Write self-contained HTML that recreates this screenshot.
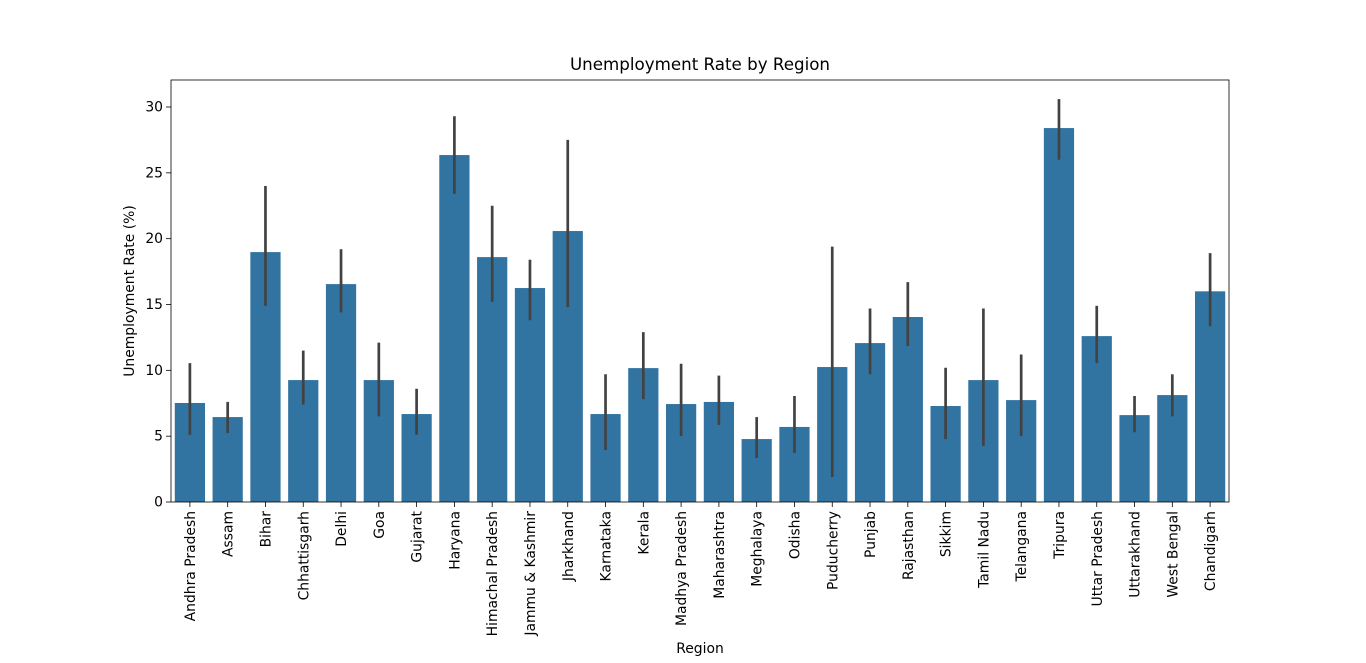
<!DOCTYPE html>
<html><head><meta charset="utf-8"><style>
html,body{margin:0;padding:0;background:#fff;}
svg{display:block;font-family:"DejaVu Sans","Liberation Sans",sans-serif;}
</style></head><body>
<svg id="chart" width="1366" height="663"></svg>
<script>
const categories=["Andhra Pradesh","Assam","Bihar","Chhattisgarh","Delhi","Goa","Gujarat","Haryana","Himachal Pradesh","Jammu & Kashmir","Jharkhand","Karnataka","Kerala","Madhya Pradesh","Maharashtra","Meghalaya","Odisha","Puducherry","Punjab","Rajasthan","Sikkim","Tamil Nadu","Telangana","Tripura","Uttar Pradesh","Uttarakhand","West Bengal","Chandigarh"];
const values=[7.52,6.45,18.98,9.26,16.55,9.26,6.68,26.35,18.6,16.25,20.58,6.68,10.17,7.44,7.6,4.78,5.7,10.25,12.07,14.05,7.29,9.26,7.74,28.4,12.6,6.6,8.12,16.0];
const errHigh=[10.55,7.6,24.0,11.5,19.2,12.1,8.6,29.3,22.5,18.4,27.5,9.7,12.9,10.5,9.6,6.45,8.05,19.4,14.7,16.7,10.2,14.7,11.2,30.6,14.9,8.05,9.7,18.9];
const errLow=[5.1,5.24,14.9,7.4,14.4,6.5,5.1,23.4,15.2,13.8,14.8,3.95,7.8,5.0,5.85,3.34,3.72,1.9,9.7,11.85,4.78,4.25,5.0,26.0,10.55,5.3,6.5,13.35];
const yTicks=[0,5,10,15,20,25,30];

const NS="http://www.w3.org/2000/svg";
const svg=document.getElementById('chart');
const L=171,R=1229,T=80,B=502;
const y=v=>B-v*(B-107)/30;
const step=(R-L)/categories.length;
const x=i=>L+step*(i+0.5);
function mk(tag,attrs,parent){const e=document.createElementNS(NS,tag);for(const k in attrs)e.setAttribute(k,attrs[k]);(parent||svg).appendChild(e);return e;}

categories.forEach((c,i)=>{
  const bw=step*0.8;
  const r=mk('rect',{x:x(i)-bw/2,y:y(values[i]),width:bw,height:y(0)-y(values[i]),fill:'#3274a1'});
  
  
  const l=mk('line',{x1:x(i),x2:x(i),y1:y(errHigh[i]),y2:y(errLow[i]),stroke:'#424242','stroke-width':2.7});
  
  
  mk('line',{x1:x(i),x2:x(i),y1:B,y2:B+5,stroke:'#000','stroke-width':0.8});
  const t=mk('text',{x:0,y:0,transform:`translate(${x(i)+5},${B+9}) rotate(-90)`,'text-anchor':'end','font-size':13.9});
  t.textContent=c;
  
  
});
yTicks.forEach(v=>{
  mk('line',{x1:L-5,x2:L,y1:y(v),y2:y(v),stroke:'#000','stroke-width':0.8});
  const t=mk('text',{x:L-8,y:y(v)+4.5,'text-anchor':'end','font-size':13.9});
  t.textContent=v;
  
  
});
const f=mk('rect',{x:L,y:T,width:R-L,height:B-T,fill:'none',stroke:'#000','stroke-width':0.8});


const ti=mk('text',{x:(L+R)/2,y:70,'text-anchor':'middle','font-size':16.7});
ti.textContent='Unemployment Rate by Region';


const xl=mk('text',{x:(L+R)/2,y:653,'text-anchor':'middle','font-size':13.9});
xl.textContent='Region';


const yl=mk('text',{x:0,y:0,transform:`translate(134,${(T+B)/2}) rotate(-90)`,'text-anchor':'middle','font-size':13.9});
yl.textContent='Unemployment Rate (%)';


</script>
</body></html>
